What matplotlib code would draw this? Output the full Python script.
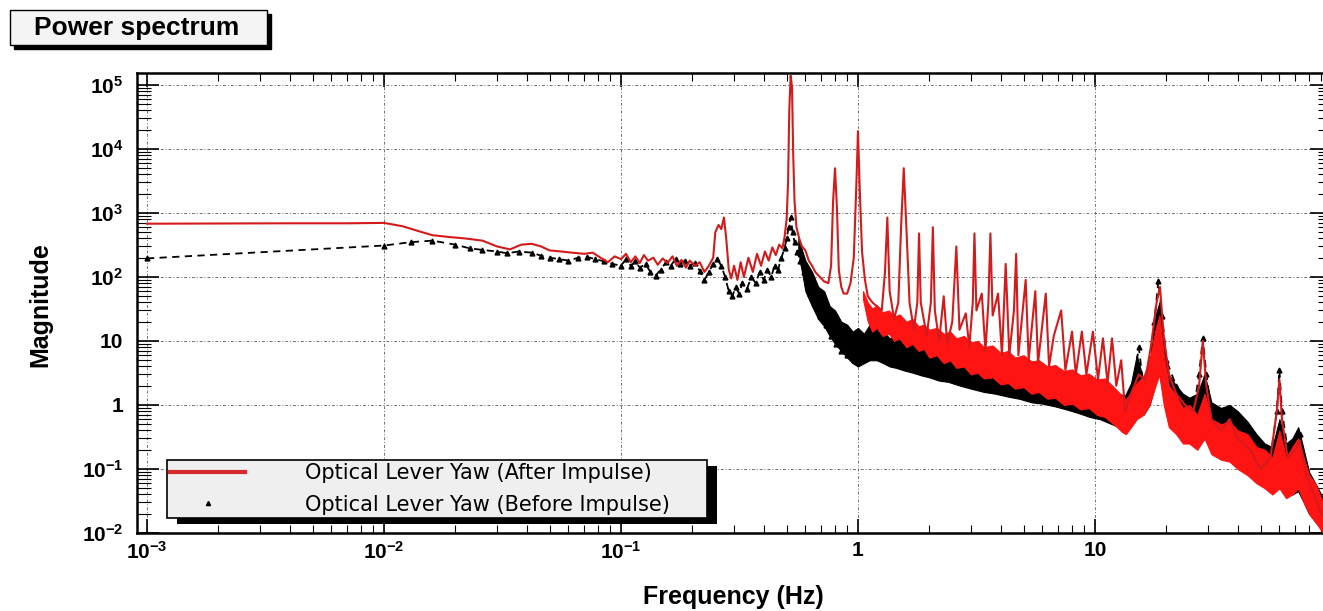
import numpy as np
import matplotlib
matplotlib.use('Agg')
import matplotlib.pyplot as plt
from matplotlib.lines import Line2D
from matplotlib.patches import Rectangle
from matplotlib.transforms import IdentityTransform
from matplotlib.ticker import LogLocator, FuncFormatter, NullFormatter

plt.rcParams['font.family'] = ['Liberation Sans', 'DejaVu Sans']
plt.rcParams['mathtext.fontset'] = 'custom'
plt.rcParams['mathtext.rm'] = 'Liberation Sans:bold'
plt.rcParams['mathtext.bf'] = 'Liberation Sans:bold'
plt.rcParams['mathtext.default'] = 'bf'

# after impulse (red)
after_f = [0.001, 0.004, 0.007, 0.01, 0.012, 0.014, 0.016, 0.019, 0.022, 0.026, 0.03, 0.034, 0.038, 0.042,
           0.046, 0.05, 0.056, 0.062, 0.07, 0.076, 0.082, 0.088, 0.094, 0.1,
           0.105, 0.11, 0.115, 0.12, 0.125, 0.13, 0.137, 0.143, 0.15, 0.157, 0.165, 0.172, 0.18, 0.188,
           0.195, 0.205, 0.215, 0.225, 0.235, 0.245, 0.25, 0.258, 0.265, 0.272, 0.278, 0.285, 0.292,
           0.3, 0.31, 0.32, 0.33, 0.345, 0.36, 0.375, 0.39, 0.405, 0.42, 0.435, 0.45, 0.465, 0.48,
           0.49, 0.5, 0.507, 0.513, 0.52, 0.527, 0.533, 0.54, 0.55, 0.565, 0.58, 0.6, 0.62, 0.64,
           0.66, 0.69, 0.72, 0.75, 0.77, 0.785, 0.8, 0.815, 0.83, 0.85, 0.87, 0.9, 0.93, 0.96, 0.985,
           1.0, 1.015, 1.04, 1.07, 1.1, 1.15, 1.2, 1.26, 1.3, 1.33, 1.36, 1.42, 1.48, 1.52, 1.56, 1.6,
           1.65, 1.72, 1.78, 1.81, 1.84, 1.95, 2.03, 2.07, 2.11, 2.2, 2.3, 2.38, 2.5, 2.6, 2.68, 2.85,
           2.95, 3.05, 3.1, 3.16, 3.33, 3.45, 3.55, 3.62, 3.7, 3.9, 4.05, 4.2, 4.35, 4.55, 4.65, 4.75,
           5.1, 5.25, 5.6, 5.75, 6.2, 6.4, 6.7, 7.2, 7.5, 8.0, 8.3, 8.8, 9.2, 9.8, 10.3, 10.8, 11.3,
           11.8, 12.3, 12.9, 13.4, 14.2, 15.3, 16.3, 17.2, 18.2, 18.8, 19.5, 20.5, 22, 24, 26, 27.5,
           28.5, 29.5, 31, 34, 37, 40, 45, 50, 55, 58.5, 60, 61.5, 65, 70, 73, 78, 84, 90, 100]
after_mag = [680, 690, 690, 700, 620, 520, 450, 420, 400, 370, 300, 270, 320, 330,
             300, 260, 250, 240, 230, 240, 200, 170, 210, 190,
             230, 170, 210, 165, 220, 180, 200, 155, 195, 165, 210, 150, 185, 140,
             180, 150, 170, 120, 150, 200, 500, 650, 560, 850, 400, 130, 95,
             150, 90, 170, 100, 200, 120, 230, 150, 250, 180, 290, 220, 320, 280,
             420, 800, 3000, 40000, 140000, 90000, 8000, 1500, 600, 400, 300, 260, 180, 150,
             120, 100, 85, 80, 150, 1500, 5000, 1200, 130, 70, 55, 55, 80, 200, 3000,
             19000, 3000, 250, 90, 50, 40, 35, 30, 120, 850, 60, 22, 40, 600, 5000, 600,
             40, 15, 40, 480, 40, 12, 40, 600, 30, 10, 50, 9, 20, 300, 15, 27,
             8, 40, 480, 30, 55, 7, 40, 480, 25, 55, 6, 160, 6, 30, 230, 6,
             90, 5, 60, 4.5, 55, 4, 12, 30, 3.5, 14, 3, 14, 3, 14, 2.5, 11, 2.2,
             11, 2, 5, 0.8, 1.5, 3, 2.5, 8, 40, 70, 12, 3, 1.5, 1, 0.8, 2,
             10, 2, 0.6, 0.4, 0.6, 0.3, 0.2, 0.1, 0.15, 0.8, 2.5, 0.6, 0.15, 0.2, 0.28, 0.08, 0.04, 0.02, 0.012]

# noise band of the after-impulse trace (upper / lower edge)
after_band_f = [1.05, 1.1, 1.15, 1.2, 1.27, 1.35, 1.42, 1.5, 1.6, 1.7, 1.8, 1.9, 2.0, 2.15, 2.3, 2.45, 2.6, 2.8,
                3.0, 3.2, 3.4, 3.7, 4.0, 4.3, 4.6, 5.0, 5.4, 5.8, 6.3, 6.8, 7.4, 8.0, 8.7, 9.4, 10.2, 11,
                12, 13, 13.5, 14.2, 15, 16, 17, 18, 18.7, 19.5, 20.5, 22, 23.5, 25, 27, 29, 31, 34, 37,
                40, 44, 48, 52, 56, 60, 64, 68, 72, 76, 80, 85, 90, 95, 100]
after_hi = [60, 40, 32, 36, 28, 30, 24, 26, 20, 22, 17, 18, 15, 16, 13, 14, 11, 12,
            9.5, 10, 8, 8.5, 6.5, 7, 5.5, 6, 4.8, 5, 4, 4.2, 3.4, 3.6, 2.9, 3.1, 2.5, 2.6,
            1.9, 1.4, 1.2, 1.6, 2.2, 2.8, 5, 15, 25, 6, 2, 1.4, 0.9, 1.0, 0.7, 1.5, 0.6, 0.5, 0.55,
            0.4, 0.35, 0.22, 0.2, 0.15, 0.4, 0.15, 0.22, 0.3, 0.15, 0.08, 0.06, 0.035, 0.025, 0.02]
after_lo = [45, 20, 14, 16, 12, 13, 10, 11, 8, 9, 7, 7.5, 5.5, 6, 4.5, 5, 3.8, 4,
            3.0, 3.2, 2.6, 2.7, 2.1, 2.2, 1.8, 1.9, 1.5, 1.6, 1.25, 1.3, 1.0, 1.05, 0.85, 0.9, 0.7, 0.65,
            0.5, 0.38, 0.35, 0.45, 0.6, 0.7, 1.0, 2.0, 3, 1.0, 0.45, 0.35, 0.25, 0.25, 0.2, 0.3, 0.17, 0.14, 0.13,
            0.1, 0.08, 0.06, 0.05, 0.04, 0.05, 0.035, 0.04, 0.05, 0.03, 0.02, 0.015, 0.011, 0.009, 0.008]

# before impulse (black)
before_f = [0.001, 0.01, 0.013, 0.016, 0.02, 0.023, 0.026, 0.03, 0.033, 0.037, 0.042, 0.046, 0.05, 0.055,
            0.06, 0.066, 0.072, 0.078, 0.085, 0.092, 0.1,
            0.105, 0.11, 0.115, 0.12, 0.127, 0.133, 0.14, 0.147, 0.155, 0.162, 0.17, 0.178, 0.186,
            0.195, 0.205, 0.215, 0.225, 0.235, 0.245, 0.255, 0.265, 0.275, 0.285, 0.295, 0.305, 0.315,
            0.325, 0.34, 0.355, 0.37, 0.385, 0.4, 0.415, 0.43, 0.445, 0.46, 0.475, 0.49, 0.5, 0.51,
            0.52, 0.53, 0.54, 0.555, 0.57, 0.59, 0.61, 0.63, 0.65, 0.67, 0.69, 0.71, 0.73, 0.75, 0.77,
            0.79, 0.81, 0.83, 0.85, 0.87, 0.9, 0.93, 0.96, 1.0, 1.05, 1.1, 1.15, 1.2, 1.25, 1.3, 1.4,
            1.5, 1.7, 2.0, 2.3, 2.6, 3, 3.5, 4, 5, 6, 7, 8, 10, 12, 13.4, 14.5, 15.3, 16, 17, 17.8,
            18.5, 19.2, 20, 22, 24, 26, 27.5, 28.5, 29.5, 31, 34, 37, 40, 45, 50, 55, 58.5, 60, 61.5,
            65, 70, 73, 78, 84, 90, 100]
before_mag = [195, 310, 350, 370, 320, 280, 265, 250, 235, 250, 240, 215, 200, 190,
              180, 200, 205, 190, 175, 160, 150,
              190, 150, 175, 140, 160, 120, 105, 130, 170, 150, 190, 160, 180,
              150, 165, 125, 90, 120, 160, 190, 150, 100, 60, 50, 70, 55,
              80, 65, 100, 80, 120, 90, 130, 100, 150, 130, 200, 280, 400, 600,
              850, 500, 350, 250, 180, 120, 80, 55, 40, 45, 25, 30, 18, 20, 12,
              18, 9, 14, 7, 10, 6, 8, 5, 6, 8, 12, 9, 15, 10, 12, 8,
              7, 6, 5, 6, 4, 3.5, 3, 2.5, 2, 1.8, 1.6, 1.4, 1.2, 0.9, 0.6, 2, 8, 2, 4, 20,
              85, 25, 5, 2, 1, 0.8, 3, 11, 3, 0.8, 0.7, 0.9, 0.5, 0.35, 0.18, 0.15, 0.8, 3.5, 0.8,
              0.2, 0.25, 0.35, 0.1, 0.05, 0.025, 0.015]

before_band_f = [0.56, 0.6, 0.64, 0.68, 0.72, 0.76, 0.8, 0.85, 0.9, 0.95, 1.0, 1.06, 1.12, 1.2, 1.28, 1.36,
                 1.45, 1.55, 1.7, 1.85, 2.0, 2.2, 2.4, 2.7, 3.0, 3.4, 3.8, 4.3, 4.8, 5.4, 6.0, 6.8, 7.6,
                 8.5, 9.5, 10.5, 11.5, 12.5, 13.4, 14.2, 15, 16, 17, 18, 18.7, 19.5, 20.5, 22, 23.5, 25,
                 27, 29, 31, 34, 37, 40, 44, 48, 52, 56, 60, 64, 68, 72, 76, 80, 85, 90, 95, 100]
before_hi = [400, 180, 120, 70, 60, 35, 30, 20, 18, 14, 16, 13, 18, 15, 14, 11,
             12, 9, 9.5, 7.5, 8, 6.5, 7, 5.5, 5.8, 4.5, 4.6, 3.8, 3.9, 3.2, 3.3, 2.7, 2.8,
             2.3, 2.2, 1.9, 1.8, 1.5, 1.4, 2.2, 6, 2.5, 4, 25, 40, 8, 3, 2, 1.5, 1.3,
             1.5, 3, 1.1, 0.9, 1.0, 0.8, 0.55, 0.35, 0.25, 0.22, 0.6, 0.25, 0.3, 0.45, 0.2, 0.09, 0.06, 0.04, 0.03, 0.02]
before_lo = [250, 60, 35, 22, 17, 12, 9, 7, 5.5, 4.5, 4, 4.5, 5, 5, 4.5, 4,
             3.8, 3.5, 3.2, 2.9, 2.7, 2.4, 2.3, 2.0, 1.8, 1.6, 1.5, 1.35, 1.25, 1.1, 1.05, 0.95, 0.85,
             0.75, 0.65, 0.6, 0.52, 0.46, 0.4, 0.5, 0.8, 0.7, 1.0, 2.5, 3, 1.2, 0.6, 0.45, 0.35, 0.3,
             0.25, 0.3, 0.2, 0.17, 0.16, 0.13, 0.1, 0.07, 0.06, 0.045, 0.06, 0.04, 0.04, 0.045, 0.03, 0.02, 0.015, 0.012, 0.01, 0.008]

labels = ['Optical Lever Yaw (After Impulse)', 'Optical Lever Yaw (Before Impulse)']

W, H = 1323, 611
fig = plt.figure(figsize=(W / 100, H / 100), dpi=100)
ax = fig.add_axes([137 / W, 78 / H, 1195 / W, 460 / H])

ax.set_xscale('log')
ax.set_yscale('log')

# before impulse
ax.fill_between(before_band_f, before_lo, before_hi, color='black', lw=0.8, edgecolor='black', zorder=2)
ax.plot(before_f, before_mag, color='black', lw=1.3, ls=(0, (4, 3)), marker='^', ms=3.5, zorder=2.1)

# after impulse
ax.fill_between(after_band_f, after_lo, after_hi, color='#ff1414', lw=0.8, edgecolor='#ff1414', zorder=3)
ax.plot(after_f, after_mag, color='#d41a1a', lw=1.5, zorder=3.1)

ax.set_xlim(10 ** -3.042, 100)
ax.set_ylim(0.01, 10 ** 5.187)


def fmt(v, pos):
    e = int(round(np.log10(v)))
    if e == 0:
        return '1'
    if e == 1:
        return '10'
    return r'$10^{%d}$' % e


def fmt_x(v, pos):
    # 100 Hz sits on the cropped right edge
    if v > 50:
        return ''
    return fmt(v, pos)


for axis, f in ((ax.xaxis, fmt_x), (ax.yaxis, fmt)):
    axis.set_major_locator(LogLocator(base=10, numticks=20))
    axis.set_minor_locator(LogLocator(base=10, subs=np.arange(2, 10), numticks=20))
    axis.set_major_formatter(FuncFormatter(f))
    axis.set_minor_formatter(NullFormatter())

ax.tick_params(which='both', direction='in', top=True, right=True)
ax.tick_params(which='major', labelsize=15, width=1.2)
ax.tick_params(axis='x', which='major', length=10, pad=6)
ax.tick_params(axis='x', which='minor', length=6, width=0.8)
ax.tick_params(axis='y', which='major', length=16, pad=10)
ax.tick_params(axis='y', which='minor', length=10, width=0.8)
for lab in ax.get_xticklabels() + ax.get_yticklabels():
    lab.set_fontweight('bold')
for s in ax.spines.values():
    s.set_linewidth(1.8)

ax.grid(which='major', color='0.45', ls=(0, (3, 2, 1, 2)), lw=0.7)
ax.set_axisbelow(True)

handles = [Line2D([], [], color='#d42a2a', lw=3),
           Line2D([], [], color='black', marker='^', ls='none', ms=3)]
leg = ax.legend(handles, labels, loc='lower left', bbox_to_anchor=(0.025, 0.033, 0.452, 0.12),
                mode='expand', borderaxespad=0, frameon=True, fancybox=False, edgecolor='black',
                facecolor='#efefef', framealpha=1, prop={'family': 'DejaVu Sans', 'size': 15},
                handlelength=3.6, handletextpad=2.9, borderpad=0.15, labelspacing=0.55)
leg.get_frame().set_linewidth(1.2)
leg.set_zorder(10)

fig.text(40 / W, 1 - 305 / H, 'Magnitude', rotation=90, ha='center', va='center',
         fontsize=18, fontweight='bold')
fig.text(733 / W, 1 - 597 / H, 'Frequency (Hz)', ha='center', va='center',
         fontsize=18, fontweight='bold')

# title box with shadow
fig.add_artist(Rectangle((14 / W, 1 - 49 / H), 257 / W, 35 / H, transform=fig.transFigure,
                         facecolor='black', edgecolor='black'))
fig.add_artist(Rectangle((10 / W, 1 - 45 / H), 257 / W, 35 / H, transform=fig.transFigure,
                         facecolor='#f4f4f4', edgecolor='black', lw=1))
fig.text(137 / W, 1 - 28 / H, 'Power spectrum', ha='center', va='center', fontsize=19, fontweight='bold')

# legend shadow
fig.canvas.draw()
bb = leg.get_window_extent()
sh = Rectangle((bb.x0 + 10, bb.y0 - 6), bb.width, bb.height, transform=IdentityTransform(),
               facecolor='black', edgecolor='none', zorder=9)
ax.add_artist(sh)

fig.savefig('out.png', dpi=100)
